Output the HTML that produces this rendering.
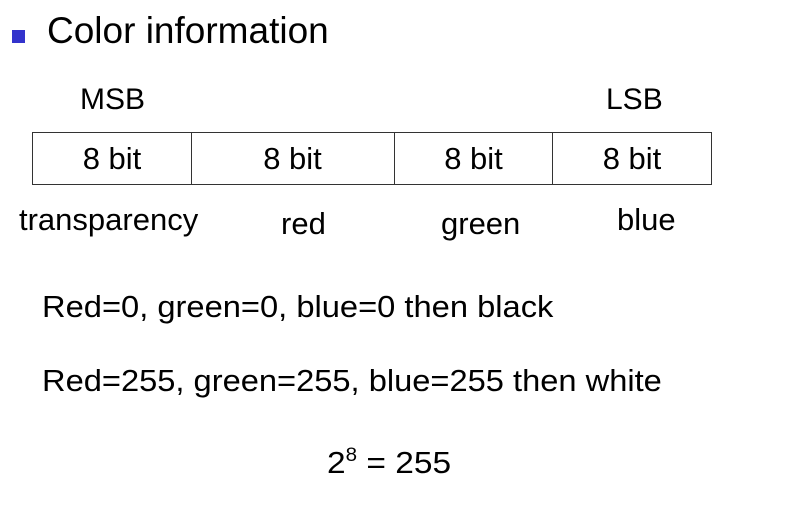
<!DOCTYPE html>
<html><head><meta charset="utf-8"><style>
body{margin:0;width:792px;height:519px;background:#fff;position:relative;overflow:hidden;font-family:"Liberation Sans",sans-serif;color:#000}
.t{position:absolute;white-space:nowrap;line-height:1;transform-origin:0 0}
.cell{position:absolute;top:132px;height:51px;border:1px solid #333;box-sizing:content-box;font-size:31px;text-align:center;line-height:51px}
</style></head><body>
<div style="position:absolute;left:12px;top:30px;width:13px;height:13px;background:#3333cc"></div>
<div class="t" style="left:47px;top:12px;font-size:37px">Color information</div>
<div class="t" style="left:80px;top:85px;font-size:30px">MSB</div>
<div class="t" style="left:606px;top:85px;font-size:30px">LSB</div>
<div class="cell" style="left:32px;width:158px">8 bit</div>
<div class="cell" style="left:191px;width:203px;border-left:none">8 bit</div>
<div class="cell" style="left:395px;width:157px;border-left:none">8 bit</div>
<div class="cell" style="left:553px;width:158px;border-left:none">8 bit</div>
<div class="t" style="left:19px;top:204px;font-size:31px">transparency</div>
<div class="t" style="left:281px;top:208px;font-size:31px">red</div>
<div class="t" style="left:441px;top:208px;font-size:31px">green</div>
<div class="t" style="left:617px;top:204px;font-size:31px">blue</div>
<div class="t" style="left:42px;top:291px;font-size:31px;transform:scaleX(1.054)">Red=0, green=0, blue=0 then black</div>
<div class="t" style="left:42px;top:365px;font-size:31px;transform:scaleX(1.053)">Red=255, green=255, blue=255 then white</div>
<div class="t" style="left:327px;top:446px;font-size:31px;transform:scaleX(1.08)">2<sup style="font-size:19px;vertical-align:12px">8</sup> = 255</div>
</body></html>
